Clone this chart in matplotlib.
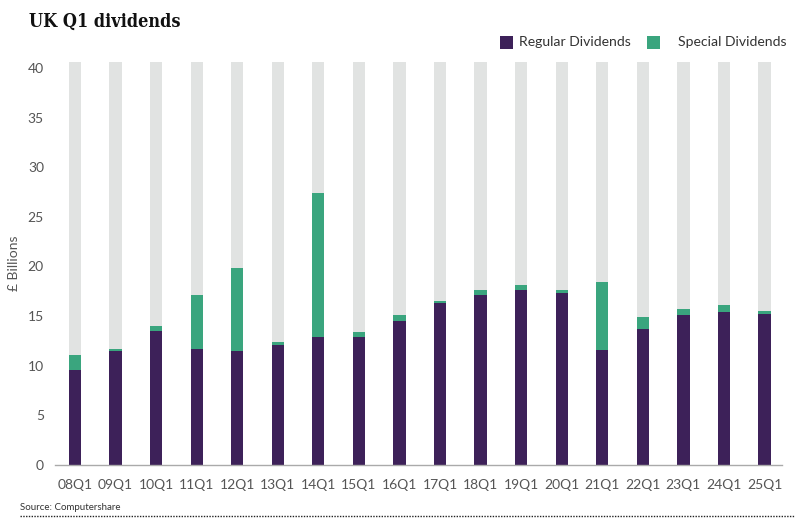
import matplotlib
matplotlib.use("Agg")
import matplotlib.pyplot as plt
from matplotlib.patches import Rectangle
from matplotlib.lines import Line2D
import numpy as np

categories = ["08Q1", "09Q1", "10Q1", "11Q1", "12Q1", "13Q1", "14Q1", "15Q1", "16Q1",
              "17Q1", "18Q1", "19Q1", "20Q1", "21Q1", "22Q1", "23Q1", "24Q1", "25Q1"]
regular = [9.57, 11.5, 13.47, 11.65, 11.45, 12.06, 12.93, 12.86, 14.5,
           16.3, 17.16, 17.67, 17.33, 11.62, 13.7, 15.1, 15.45, 15.18]
total = [11.1, 11.7, 14.04, 17.1, 19.8, 12.39, 27.37, 13.43, 15.1,
         16.55, 17.6, 18.17, 17.6, 18.4, 14.95, 15.7, 16.1, 15.5]
special = [t - r for t, r in zip(total, regular)]
background = [40.6] * len(categories)
yticks = [0, 5, 10, 15, 20, 25, 30, 35, 40]
series_names = ["Regular Dividends", "Special Dividends"]

PURPLE = "#3d2159"
GREEN = "#3aa57e"
GREY = "#e1e3e2"
TXT = "#555555"

plt.rcParams['font.family'] = ['Lato', 'DejaVu Sans']

fig = plt.figure(figsize=(8, 5.25), dpi=100)
ax = fig.add_axes([55/800, 60/525, 727/800, 407/525])

x = np.arange(len(categories))
w = 0.3
ax.bar(x, background, width=w, color=GREY, zorder=1)
ax.bar(x, regular, width=w, color=PURPLE, zorder=2, label=series_names[0])
ax.bar(x, special, width=w, bottom=regular, color=GREEN, zorder=2, label=series_names[1])

ax.set_xlim(-0.49, 17.43)
ax.set_ylim(0, 41)
ax.set_yticks(yticks)
ax.set_xticks(x)
ax.set_xticklabels(categories)
for s in ["top", "right", "left"]:
    ax.spines[s].set_visible(False)
ax.spines["bottom"].set_color("#aaaaaa")
ax.spines["bottom"].set_linewidth(1)
ax.tick_params(axis="both", length=0, labelsize=10, labelcolor=TXT)
ax.tick_params(axis="x", pad=10)
ax.tick_params(axis="y", pad=8)

fig.text(14/800, 1 - 263/525, "£ Billions", rotation=90, ha="center", va="center",
         fontsize=10, color=TXT)

fig.text(29/800, 1 - 22/525, "UK Q1 dividends", ha="left", va="center",
         fontsize=13, fontweight="heavy", family=["DejaVu Serif"], fontstretch="condensed",
         color="#111111")

# legend (drawn in figure coordinates)
sq = 13
for (x0, col, tx, name) in [(500, PURPLE, 519, series_names[0]), (647, GREEN, 678, series_names[1])]:
    fig.add_artist(Rectangle((x0/800, 1 - (42 + sq/2)/525), sq/800, sq/525,
                             transform=fig.transFigure, facecolor=col, edgecolor="none"))
    fig.text(tx/800, 1 - 42/525, name, ha="left", va="center", fontsize=10.1, color="#333333")

fig.text(20/800, 1 - 508/525, "Source: Computershare", ha="left", va="center",
         fontsize=7, color="#333333")
fig.add_artist(Line2D([20/800, 795/800], [1 - 516/525, 1 - 516/525], transform=fig.transFigure,
                      color="#222222", linestyle=(0, (1, 1)), linewidth=1))

fig.savefig("out.png", dpi=100)
